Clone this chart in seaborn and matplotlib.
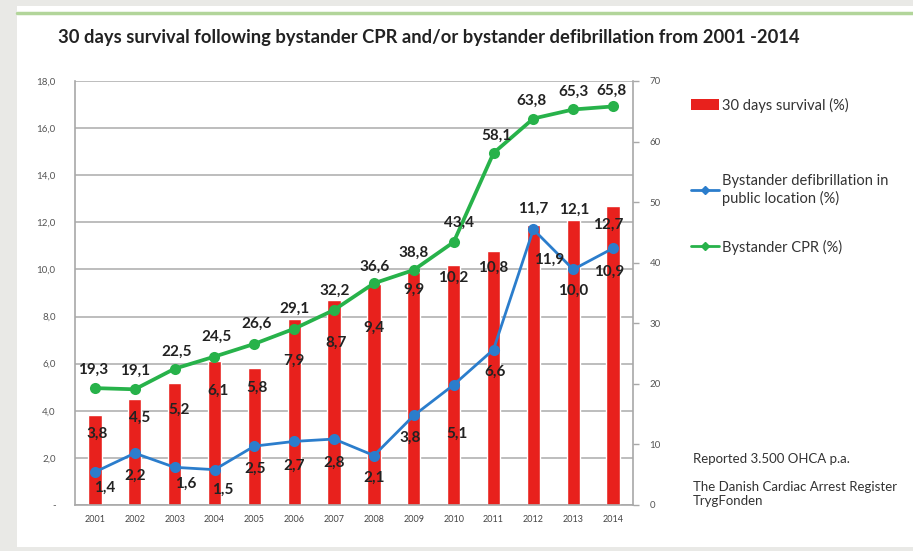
import numpy as np
import pandas as pd
import matplotlib
matplotlib.use("Agg")
import matplotlib.pyplot as plt
import seaborn as sns
from matplotlib.lines import Line2D
from matplotlib.patches import Patch, Rectangle

# ---------------- data ----------------
years = ['2001', '2002', '2003', '2004', '2005', '2006', '2007',
         '2008', '2009', '2010', '2011', '2012', '2013', '2014']
survival = [3.8, 4.5, 5.2, 6.1, 5.8, 7.9, 8.7, 9.4, 9.9, 10.2, 10.8, 11.9, 12.1, 12.7]
defib = [1.4, 2.2, 1.6, 1.5, 2.5, 2.7, 2.8, 2.1, 3.8, 5.1, 6.6, 11.7, 10.0, 10.9]
cpr = [19.3, 19.1, 22.5, 24.5, 26.6, 29.1, 32.2, 36.6, 38.8, 43.4, 58.1, 63.8, 65.3, 65.8]

title = "30 days survival following bystander CPR and/or bystander defibrillation from 2001 -2014"
legend_labels = ["30 days survival (%)",
                 "Bystander defibrillation in\npublic location (%)",
                 "Bystander CPR (%)"]
note1 = "Reported 3.500 OHCA p.a."
note2 = "The Danish Cardiac Arrest Register\nTrygFonden"

# label offsets (pixels, style only)
bar_dx = [2, 5, 4, 4, 3, 0, 2, 0, 0, 0, 0, 16, 1, -5]
bar_dy = [-18, -19, -27, -29, -19, -42, -43, -44, -18, -13, -17, -35, 10, -19]
def_dx = [10, 0, 11, 8, 1, 0, 0, 0, -4, 3, 2, 0, 0, -4]
def_dy = [-16, -23, -16, -20, -23, -24, -24, -22, -22, -49, -22, 21, -21, -24]
cpr_dx = [-2, 0, 2, 2, 2, 0, 1, 1, 0, 5, 3, -2, 0, -2]
cpr_dy = [18, 19, 17, 20, 20, 20, 19, 17, 17, 19, 17, 18, 18, 16]

RED = '#e8211d'
BLUE = '#2b7dcc'
GREEN = '#27b24a'
TXT = '#222222'

df = pd.DataFrame({'year': years, 'pos': np.arange(len(years)),
                   'survival': survival, 'defib': defib, 'cpr': cpr})

sns.set_theme(style='white')
plt.rcParams['font.family'] = ['Lato', 'DejaVu Sans']

W, H = 913, 551
fig = plt.figure(figsize=(W / 100, H / 100), dpi=100)
fig.patch.set_facecolor('#e9e9e6')
fig.add_artist(Rectangle((17 / W, 4 / H), 1 - 17 / W, 1 - 10 / H,
                         transform=fig.transFigure, facecolor='white',
                         edgecolor='none', zorder=0))
fig.add_artist(Line2D([17 / W, 1], [1 - 13 / H] * 2, color='#b2d59a', lw=2.5,
                      transform=fig.transFigure, zorder=1))

ax = fig.add_axes([75 / W, 1 - 505 / H, (633 - 75) / W, (505 - 81) / H])
ax.set_facecolor('none')

sns.barplot(data=df, x='year', y='survival', order=years, color=RED,
            saturation=1, width=0.33, ax=ax, zorder=2)
sns.lineplot(data=df, x='pos', y='defib', color=BLUE, lw=2, marker='o',
             markersize=8, markeredgewidth=0, ax=ax, zorder=3)
ax.set_xlim(-0.5, 13.5)
ax.set_ylim(0, 18)
ax.set_xlabel('')
ax.set_ylabel('')
ax.set_xticks(range(len(years)))
ax.set_xticklabels(years)
yt = np.arange(0, 19, 2)
ax.set_yticks(yt)
ax.set_yticklabels(['-' if v == 0 else f"{v:.1f}".replace('.', ',') for v in yt])
ax.yaxis.grid(True, color='#b8b8b8', lw=1.3)
ax.set_axisbelow(True)
ax.tick_params(axis='y', length=0, pad=14, labelsize=7, labelcolor='#555555')
ax.tick_params(axis='x', length=0, pad=7, labelsize=6.5, labelcolor='#444444')
for s in ['left', 'bottom']:
    ax.spines[s].set_color('#a8a8a8')
    ax.spines[s].set_linewidth(1.2)
ax.spines['top'].set_visible(False)
ax.spines['right'].set_visible(False)

ax2 = ax.twinx()
sns.lineplot(data=df, x='pos', y='cpr', color=GREEN, lw=2.7, marker='o',
             markersize=8, markeredgewidth=0, ax=ax2, zorder=4)
ax2.set_ylim(0, 70)
ax2.set_xlim(-0.5, 13.5)
ax2.set_ylabel('')
ax2.set_yticks(np.arange(0, 71, 10))
ax2.tick_params(axis='y', length=4, width=1, color='#a8a8a8', pad=8,
                labelsize=7, labelcolor='#555555')
for s in ['left', 'top', 'bottom']:
    ax2.spines[s].set_visible(False)
ax2.spines['right'].set_color('#a8a8a8')
ax2.spines['right'].set_linewidth(1.2)

fmt = lambda v: f"{v:.1f}".replace('.', ',')
kw = dict(textcoords='offset points', ha='center', va='center',
          fontsize=11, fontweight='bold', color=TXT, zorder=6)
for i, v in enumerate(survival):
    ax.annotate(fmt(v), (i, v), xytext=(bar_dx[i] * 0.72, bar_dy[i] * 0.72), **kw)
for i, v in enumerate(defib):
    ax.annotate(fmt(v), (i, v), xytext=(def_dx[i] * 0.72, def_dy[i] * 0.72), **kw)
for i, v in enumerate(cpr):
    ax2.annotate(fmt(v), (i, v), xytext=(cpr_dx[i] * 0.72, cpr_dy[i] * 0.72), **kw)

fig.text(58 / W, 1 - 38 / H, title, fontsize=13.2, fontweight='bold',
         color=TXT, va='center', ha='left')

handles = [Patch(facecolor=RED, edgecolor='none'),
           Line2D([], [], color=BLUE, lw=2, marker='D', markersize=4),
           Line2D([], [], color=GREEN, lw=2, marker='D', markersize=4)]
leg_y = [105, 190, 247]
for h, lab, y in zip(handles, legend_labels, leg_y):
    fig.legend([h], [lab], loc='center left', bbox_to_anchor=(691 / W, 1 - y / H),
               frameon=False, fontsize=10.5, handlelength=1.9, handletextpad=0.2,
               borderpad=0, borderaxespad=0, labelcolor='#333333')

fig.text(693 / W, 1 - 459 / H, note1, fontsize=9.5, color='#333333', va='center')
fig.text(693 / W, 1 - 481 / H, note2, fontsize=9.5, color='#333333', va='top',
         linespacing=1.2)

fig.savefig('out.png', dpi=100, facecolor=fig.get_facecolor())
